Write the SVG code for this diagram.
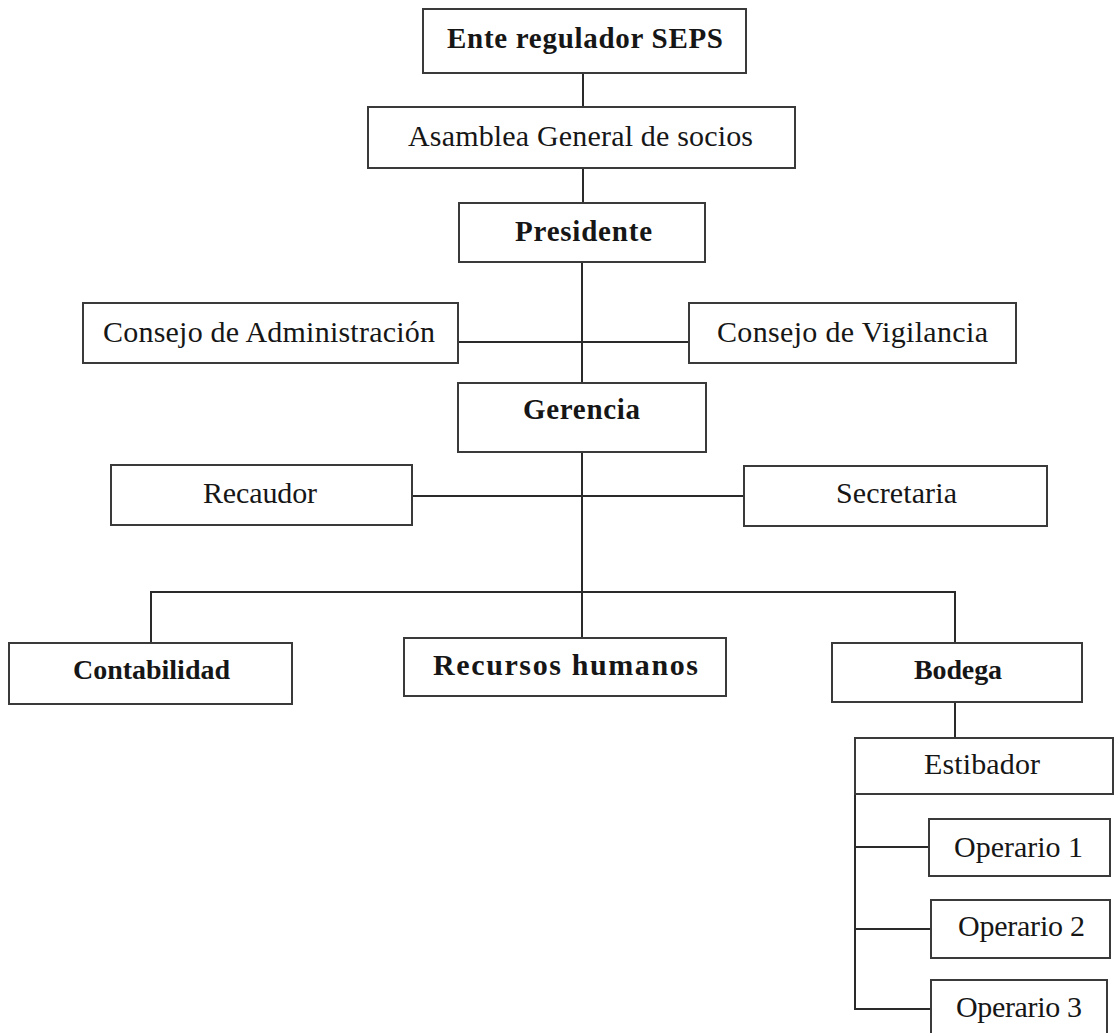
<svg xmlns="http://www.w3.org/2000/svg" width="1115" height="1033" viewBox="0 0 1115 1033">
<style>
.box{fill:#fff;stroke:#3a3a3a;stroke-width:2}
.ln{fill:none;stroke:#2a2a2a;stroke-width:2}
.t{font-family:"Liberation Serif","Times New Roman",serif;font-size:30px;fill:#161616}
.b{font-family:"Liberation Serif","Times New Roman",serif;font-size:29px;font-weight:bold;fill:#161616}
.bs{font-size:28px}
.bl{font-size:30px}
</style>
<rect width="1115" height="1033" fill="#fff"/>
<g id="connectors">
<line class="ln" x1="583" y1="73" x2="583" y2="107"/>
<line class="ln" x1="583" y1="168" x2="583" y2="203"/>
<line class="ln" x1="582" y1="262" x2="582" y2="383"/>
<line class="ln" x1="458" y1="342" x2="689" y2="342"/>
<line class="ln" x1="582" y1="452" x2="582" y2="638"/>
<line class="ln" x1="412" y1="496" x2="744" y2="496"/>
<polyline class="ln" points="151,643 151,592 955,592 955,643"/>
<line class="ln" x1="955" y1="702" x2="955" y2="738"/>
<polyline class="ln" points="855,790 855,1009 931,1009"/>
<line class="ln" x1="855" y1="847" x2="929" y2="847"/>
<line class="ln" x1="855" y1="929" x2="931" y2="929"/>
</g>
<g id="ente"><rect class="box" x="423" y="9" width="323" height="64"/><text class="b" x="447" y="48" textLength="276" lengthAdjust="spacing">Ente regulador SEPS</text></g>
<g id="asamblea"><rect class="box" x="368" y="107" width="427" height="61"/><text class="t" x="408" y="146" textLength="345" lengthAdjust="spacing">Asamblea General de socios</text></g>
<g id="presidente"><rect class="box" x="459" y="203" width="246" height="59"/><text class="b" x="515" y="241" textLength="137" lengthAdjust="spacing">Presidente</text></g>
<g id="consejo-admin"><rect class="box" x="83" y="303" width="375" height="60"/><text class="t" x="103" y="342" textLength="332" lengthAdjust="spacing">Consejo de Administración</text></g>
<g id="consejo-vig"><rect class="box" x="689" y="303" width="327" height="60"/><text class="t" x="717" y="342" textLength="271" lengthAdjust="spacing">Consejo de Vigilancia</text></g>
<g id="gerencia"><rect class="box" x="458" y="383" width="248" height="69"/><text class="b" x="523" y="419" textLength="117" lengthAdjust="spacing">Gerencia</text></g>
<g id="recaudor"><rect class="box" x="111" y="465" width="301" height="60"/><text class="t" x="203" y="503" textLength="114" lengthAdjust="spacing">Recaudor</text></g>
<g id="secretaria"><rect class="box" x="744" y="466" width="303" height="60"/><text class="t" x="836" y="503" textLength="121" lengthAdjust="spacing">Secretaria</text></g>
<g id="contabilidad"><rect class="box" x="9" y="643" width="283" height="61"/><text class="b bs" x="73" y="679" textLength="157" lengthAdjust="spacing">Contabilidad</text></g>
<g id="recursos"><rect class="box" x="404" y="638" width="322" height="58"/><text class="b bl" x="433" y="675" textLength="265" lengthAdjust="spacing">Recursos humanos</text></g>
<g id="bodega"><rect class="box" x="832" y="643" width="250" height="59"/><text class="b bs" x="914" y="679" textLength="88" lengthAdjust="spacing">Bodega</text></g>
<g id="estibador"><rect class="box" x="855" y="738" width="258" height="56"/><text class="t" x="924" y="774" textLength="116" lengthAdjust="spacing">Estibador</text></g>
<g id="operario1"><rect class="box" x="929" y="819" width="181" height="57"/><text class="t" x="954" y="857" textLength="129" lengthAdjust="spacing">Operario 1</text></g>
<g id="operario2"><rect class="box" x="931" y="900" width="179" height="58"/><text class="t" x="958" y="936" textLength="127" lengthAdjust="spacing">Operario 2</text></g>
<g id="operario3"><rect class="box" x="931" y="980" width="176" height="65"/><text class="t" x="956" y="1017" textLength="126" lengthAdjust="spacing">Operario 3</text></g>
</svg>
